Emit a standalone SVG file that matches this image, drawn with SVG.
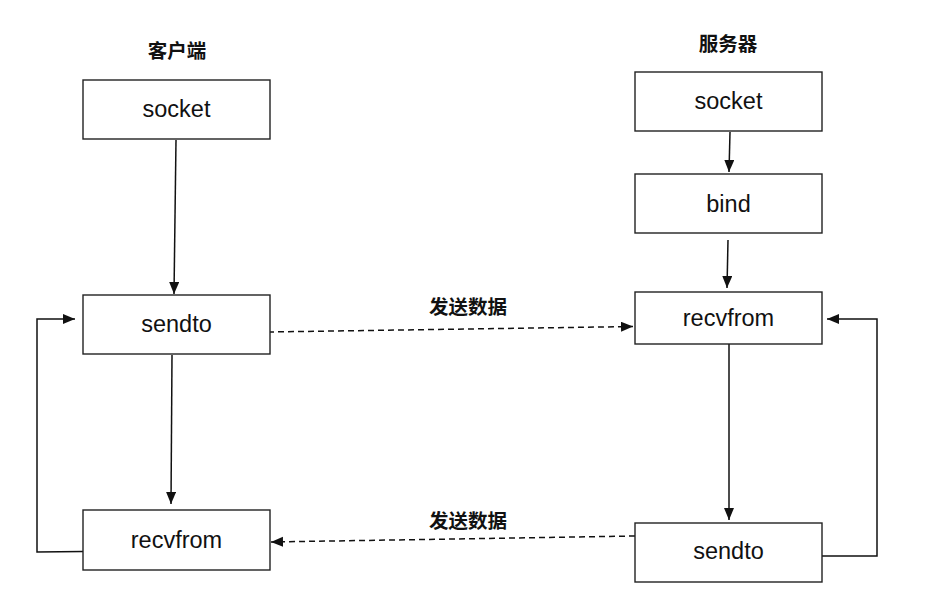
<svg xmlns="http://www.w3.org/2000/svg" width="928" height="613" viewBox="0 0 928 613">
<style>
.box{fill:#fff;stroke:#222;stroke-width:1.4}
.lbl{font-family:"Liberation Sans",Arial,sans-serif;font-size:23.5px;fill:#111;text-anchor:middle}
.title{font-family:"Noto Sans CJK SC","Liberation Sans",sans-serif;font-size:19.5px;font-weight:bold;fill:#111;text-anchor:middle}
.ln{fill:none;stroke:#111;stroke-width:1.5;marker-end:url(#ah)}
.dash{stroke-dasharray:6 4}
</style>
<defs>
<marker id="ah" markerUnits="userSpaceOnUse" markerWidth="13" markerHeight="11" refX="12" refY="5" orient="auto">
<path d="M0,0 L12,5 L0,10 z" fill="#111"/>
</marker>
</defs>
<rect width="928" height="613" fill="#fff"/>
<text class="title" x="177" y="58">客户端</text>
<text class="title" x="728" y="51">服务器</text>
<g id="connectors">
<path class="ln" d="M176,140 L174,294"/>
<path class="ln" d="M172,355 L171,504"/>
<path class="ln" d="M83,551.5 L37,552 L37,319 L75,319"/>
<path class="ln dash" d="M268,332 L633,326.5"/>
<path class="ln dash" d="M635,536 L271,542"/>
<path class="ln" d="M730,132 L729,172"/>
<path class="ln" d="M728,240 L727,288"/>
<path class="ln" d="M729,344 L729,520"/>
<path class="ln" d="M822,556 L877,556 L877,319 L827,319"/>
</g>
<text class="title" x="468" y="314">发送数据</text>
<text class="title" x="468" y="528">发送数据</text>
<g id="c-socket"><rect class="box" x="83" y="80" width="187" height="59"/><text class="lbl" x="176.5" y="117">socket</text></g>
<g id="c-sendto"><rect class="box" x="83" y="295" width="187" height="59"/><text class="lbl" x="176.5" y="332">sendto</text></g>
<g id="c-recvfrom"><rect class="box" x="83" y="510" width="187" height="60"/><text class="lbl" x="176.5" y="548">recvfrom</text></g>
<g id="s-socket"><rect class="box" x="635" y="72" width="187" height="59"/><text class="lbl" x="728.5" y="109">socket</text></g>
<g id="s-bind"><rect class="box" x="635" y="174" width="187" height="59"/><text class="lbl" x="728.5" y="212">bind</text></g>
<g id="s-recvfrom"><rect class="box" x="635" y="292" width="187" height="52"/><text class="lbl" x="728.5" y="326">recvfrom</text></g>
<g id="s-sendto"><rect class="box" x="635" y="523" width="187" height="59"/><text class="lbl" x="728.5" y="559">sendto</text></g>
</svg>
